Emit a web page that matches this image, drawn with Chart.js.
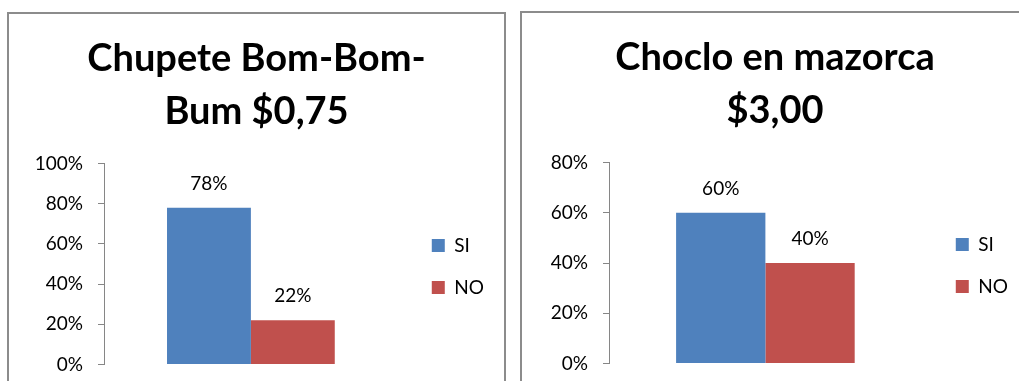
<!DOCTYPE html>
<html>
<head>
<meta charset="utf-8">
<script src="https://cdn.jsdelivr.net/npm/chart.js@4"></script>
<style>
  html, body { margin: 0; padding: 0; background: #fff; overflow: hidden; width: 1019px; height: 381px; }
  .marco { position: absolute; border: 2px solid #8c8c8c; background: #fff; height: 390px; }
  #marco1 { left: 7px; top: 12px; width: 495px; }
  #marco2 { left: 520px; top: 11px; width: 506px; }
  canvas { display: block; }
</style>
</head>
<body>
<div class="marco" id="marco1"><canvas id="grafico1" width="495" height="377"></canvas></div>
<div class="marco" id="marco2"><canvas id="grafico2" width="506" height="377"></canvas></div>
<script>
const categorias = [''];
const series = ['SI', 'NO'];
const colores = ['#4F81BD', '#C0504D'];

const tituloChupete = ['Chupete Bom-Bom-', 'Bum $0,75'];
const siChupete = [78];
const noChupete = [22];
const maxChupete = 100;

const tituloChoclo = ['Choclo en mazorca', '$3,00'];
const siChoclo = [60];
const noChoclo = [40];
const maxChoclo = 80;

const pasoEje = 20;

Chart.defaults.font.family = 'Lato, "Open Sans", sans-serif';
Chart.defaults.color = '#000';

// etiquetas encima de cada barra
const etiquetas = {
    id: 'etiquetas',
    afterDatasetsDraw(chart) {
        const ctx = chart.ctx;
        ctx.save();
        ctx.font = '19px Lato';
        ctx.fillStyle = '#000';
        ctx.textAlign = 'center';
        ctx.textBaseline = 'middle';
        chart.data.datasets.forEach((ds, i) => {
            chart.getDatasetMeta(i).data.forEach((barra, j) => {
                ctx.fillText(ds.data[j] + '%', barra.x, barra.y - 24);
            });
        });
        ctx.restore();
    }
};

// acomoda la leyenda junto al grafico
const moverLeyenda = {
    id: 'moverLeyenda',
    afterLayout(chart, args, opts) {
        const l = chart.legend;
        if (l) {
            l.left += opts.dx; l.right += opts.dx;
            l.top += opts.dy; l.bottom += opts.dy;
        }
    }
};

function crearGrafico(id, titulo, si, no, max, anchoEje, pad, dx) {
    const ctx = document.getElementById(id).getContext('2d');
    return new Chart(ctx, {
        type: 'bar',
        data: {
            labels: categorias,
            datasets: [
                { label: series[0], data: si, backgroundColor: colores[0] },
                { label: series[1], data: no, backgroundColor: colores[1] }
            ]
        },
        options: {
            responsive: false,
            animation: false,
            layout: { padding: { left: pad, right: pad, top: 0, bottom: 0 } },
            datasets: { bar: { barPercentage: 1, categoryPercentage: 0.571 } },
            scales: {
                x: { display: false },
                y: {
                    min: 0,
                    max: max,
                    afterFit: s => { s.width = anchoEje; },
                    ticks: {
                        stepSize: pasoEje,
                        padding: 15,
                        font: { size: 19 },
                        color: '#000',
                        callback: v => v + '%'
                    },
                    grid: { drawOnChartArea: false, drawTicks: true, tickLength: 6, color: '#868686' },
                    border: { color: '#868686', width: 1 }
                }
            },
            plugins: {
                title: {
                    display: true,
                    text: titulo,
                    color: '#000',
                    font: { size: 38, weight: 'bold', lineHeight: 1.4 },
                    padding: { top: 18, bottom: 25 }
                },
                legend: {
                    position: 'right',
                    labels: { boxWidth: 13, boxHeight: 13, padding: 23, font: { size: 19 }, color: '#000' }
                },
                moverLeyenda: { dx: dx, dy: 64 },
                tooltip: { enabled: false }
            }
        },
        plugins: [etiquetas, moverLeyenda]
    });
}

crearGrafico('grafico1', tituloChupete, siChupete, noChupete, maxChupete, 74, 21, 11);
crearGrafico('grafico2', tituloChoclo, siChoclo, noChoclo, maxChoclo, 66, 21, 11);
</script>
</body>
</html>
